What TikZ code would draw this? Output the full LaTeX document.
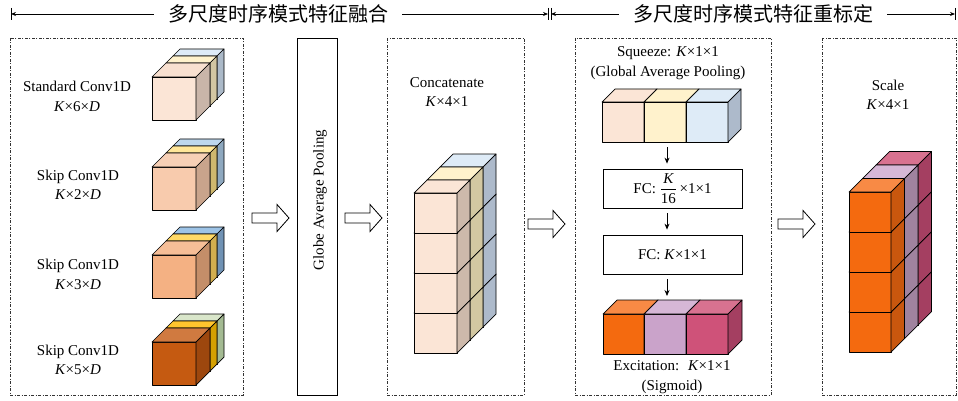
\documentclass[tikz,border=0pt]{standalone}
\usepackage{fontspec}
\setmainfont{Liberation Serif}
\newfontfamily\cjk{Noto Sans CJK SC}
\usetikzlibrary{arrows.meta}
% colours
\definecolor{Af}{HTML}{FBE5D6}\definecolor{At}{HTML}{F8E0D0}\definecolor{As}{HTML}{C9B5A9}
\definecolor{Ayt}{HTML}{FFF2CC}\definecolor{Ays}{HTML}{D2C6A2}
\definecolor{Abt}{HTML}{DEEBF7}\definecolor{Abs}{HTML}{ABB9C8}
\definecolor{Bf}{HTML}{F8CBAD}\definecolor{Bt}{HTML}{F7D0B6}\definecolor{Bs}{HTML}{C9A48C}
\definecolor{Byt}{HTML}{FFE699}\definecolor{Bys}{HTML}{CFB86E}
\definecolor{Bbt}{HTML}{BDD7EE}\definecolor{Bbs}{HTML}{8EA8BF}
\definecolor{Cf}{HTML}{F4B183}\definecolor{Ct}{HTML}{F6BE97}\definecolor{Cs}{HTML}{C48E69}
\definecolor{Cyt}{HTML}{FFD966}\definecolor{Cys}{HTML}{D2AE4E}
\definecolor{Cbt}{HTML}{9DC3E6}\definecolor{Cbs}{HTML}{7092B4}
\definecolor{Df}{HTML}{C55A11}\definecolor{Dt}{HTML}{D07A40}\definecolor{Ds}{HTML}{9D470E}
\definecolor{Dyt}{HTML}{FFC52E}\definecolor{Dys}{HTML}{D4A000}
\definecolor{Dbt}{HTML}{D9E6CA}\definecolor{Dbs}{HTML}{A3BA92}
\definecolor{Epf}{HTML}{FBE5D6}\definecolor{Eps}{HTML}{CDB9AB}
\definecolor{Eyf}{HTML}{FFF2CC}\definecolor{Eys}{HTML}{D3C8A2}
\definecolor{Ebf}{HTML}{DEEBF7}\definecolor{Ebs}{HTML}{ADBACB}
\definecolor{Of}{HTML}{F46A0F}\definecolor{Ot}{HTML}{F88A45}\definecolor{Os}{HTML}{C9570E}
\definecolor{Lf}{HTML}{CAA3CA}\definecolor{Lt}{HTML}{D6B7D6}\definecolor{Ls}{HTML}{A0839F}
\definecolor{Rf}{HTML}{CF5279}\definecolor{Rt}{HTML}{D87290}\definecolor{Rs}{HTML}{A43F61}
% one slab: x y w h d front top side
\newcommand{\slab}[8]{%
  \filldraw[fill=#6,cubeline] (#1,#2) rectangle ++(#3,#4);
  \filldraw[fill=#7,cubeline] (#1,#2) -- ++(#5,-#5) -- ++(#3,0) -- ++(-#5,#5) -- cycle;
  \filldraw[fill=#8,cubeline] (#1+#3,#2) -- ++(#5,-#5) -- ++(0,#4) -- ++(-#5,#5) -- cycle;
}
% layered cube: x y prefix
\newcommand{\lcube}[3]{%
  \slab{#1+21}{#2-21}{44}{43}{7}{#3bt}{#3bt}{#3bs}
  \slab{#1+14}{#2-14}{44}{43}{7}{#3yt}{#3yt}{#3ys}
  \slab{#1}{#2}{44}{43}{14}{#3f}{#3t}{#3s}
}
% hollow block arrow: tail-centre x y
\newcommand{\blockarrow}[2]{%
  \filldraw[blkarrow] (#1,#2-5) -- ++(25,0) -- ++(0,-8.5) -- ++(12,13.5) -- ++(-12,13.5) -- ++(0,-8.5) -- ++(-25,0) -- cycle;
}
\begin{document}
\begin{tikzpicture}[x=1pt,y=-1pt,
  cubeline/.style={draw=black,line width=0.7pt,line join=round},
  dbox/.style={draw=black!80,line width=0.8pt,dash pattern=on 3pt off 1.5pt on 1pt off 1.5pt},
  lab/.style={font=\fontsize{15}{19.5}\selectfont,inner sep=0pt,align=center},
  head/.style={font=\cjk\fontsize{20}{22}\selectfont,inner sep=0pt,inner xsep=14pt},
  harr/.style={line width=0.8pt,-{Stealth[length=5pt,width=4pt]}},
  tick/.style={line width=0.8pt},
  arr/.style={line width=0.8pt,-{Stealth[length=6pt,width=5pt]}},
  fcbox/.style={draw=black,line width=0.8pt,fill=white,minimum width=139pt,minimum height=39pt,inner sep=0pt,font=\fontsize{15}{18}\selectfont},
  blkarrow/.style={draw=black,line width=0.8pt,fill=white,line join=miter},
]
\useasboundingbox (0,0) rectangle (958,401);

% ---------- header ----------
\coordinate (hL) at (11,14);
\coordinate (hM1) at (548,14);
\coordinate (hM2) at (551,14);
\coordinate (hR) at (955,14);
\node[head] (h1) at (278,14) {多尺度时序模式特征融合};
\node[head] (h2) at (753,14) {多尺度时序模式特征重标定};
\draw[harr] (h1.west) -- (hL);
\draw[harr] (h1.east) -- (hM1);
\draw[harr] (h2.west) -- (hM2);
\draw[harr] (h2.east) -- (hR);
\draw[tick] (11,8) -- (11,20);
\draw[tick] (548,8) -- (548,20);
\draw[tick] (551,8) -- (551,20);
\draw[tick] (955,8) -- (955,20);

% ---------- dashed frames ----------
\draw[dbox] (10,38) rectangle (243,395);
\draw[dbox] (387,38) rectangle (524,395);
\draw[dbox] (575,38) rectangle (771,395);
\draw[dbox] (822,38) rectangle (956,395);

% ---------- left block ----------
\lcube{152}{77}{A}
\lcube{152}{167}{B}
\lcube{152}{255}{C}
\lcube{152}{342}{D}
\node[lab] (l1) at (77,96.5) {Standard Conv1D\\\textit{K}×6×\textit{D}};
\node[lab] (l2) at (78,185) {Skip Conv1D\\\textit{K}×2×\textit{D}};
\node[lab] (l3) at (78,274.5) {Skip Conv1D\\\textit{K}×3×\textit{D}};
\node[lab] (l4) at (78,360) {Skip Conv1D\\\textit{K}×5×\textit{D}};

% ---------- global average pooling bar ----------
\node[draw=black,line width=0.8pt,minimum width=40pt,minimum height=357pt,inner sep=0pt] (gap) at (317,216.5) {};
\node[lab,rotate=90] (gaptext) at (320,200) {Globe Average Pooling};

% ---------- block arrows ----------
\blockarrow{252}{218}
\blockarrow{345}{218}
\blockarrow{528}{224}
\blockarrow{778}{224}

% ---------- concatenate ----------
\node[lab] (cat) at (447,92) {Concatenate\\\textit{K}×4×1};
\foreach \k in {3,2,1,0} {\slab{414+26}{193+40*\k-26}{43}{40}{13}{Ebf}{Ebf}{Ebs}}
\foreach \k in {3,2,1,0} {\slab{414+13}{193+40*\k-13}{43}{40}{13}{Eyf}{Eyf}{Eys}}
\foreach \k in {3,2,1,0} {\slab{414}{193+40*\k}{43}{40}{13}{Epf}{Epf}{Eps}}

% ---------- SE block ----------
\node[lab] (sq) at (668,63) {Squeeze: \textit{K}×1×1\\(Global Average Pooling)};
\slab{602}{102}{42}{40}{13}{Epf}{Epf}{Eps}
\slab{644}{102}{42}{40}{13}{Eyf}{Eyf}{Eys}
\slab{686}{102}{42}{40}{13}{Ebf}{Ebf}{Ebs}
\coordinate (sqb) at (667,142);
\node[fcbox] (fc1) at (672.5,188.5) {FC: $\displaystyle\frac{\mbox{\itshape K}}{\mbox{16}}$\,×1×1};
\node[fcbox] (fc2) at (672.5,254.5) {FC: \textit{K}×1×1};
\coordinate (ext) at (667,300);
\draw[arr,shorten <=5pt,shorten >=5pt] (sqb) -- (sqb |- fc1.north);
\draw[arr,shorten <=5pt,shorten >=5pt] (sqb |- fc1.south) -- (sqb |- fc2.north);
\draw[arr,shorten <=5pt,shorten >=4pt] (sqb |- fc2.south) -- (ext);
\slab{603}{314}{41}{40}{14}{Of}{Ot}{Os}
\slab{644}{314}{42}{40}{14}{Lf}{Lt}{Ls}
\slab{686}{314}{42}{40}{14}{Rf}{Rt}{Rs}
\node[lab] (ex) at (672,377) {Excitation:~ \textit{K}×1×1\\(Sigmoid)};

% ---------- scale ----------
\node[lab] (sc) at (888,95) {Scale\\\textit{K}×4×1};
\foreach \k in {3,2,1,0} {\slab{849+27}{192+40*\k-27}{42}{40}{13.5}{Rf}{Rt}{Rs}}
\foreach \k in {3,2,1,0} {\slab{849+13.5}{192+40*\k-13.5}{42}{40}{13.5}{Lf}{Lt}{Ls}}
\foreach \k in {3,2,1,0} {\slab{849}{192+40*\k}{42}{40}{13.5}{Of}{Ot}{Os}}
\end{tikzpicture}
\end{document}
